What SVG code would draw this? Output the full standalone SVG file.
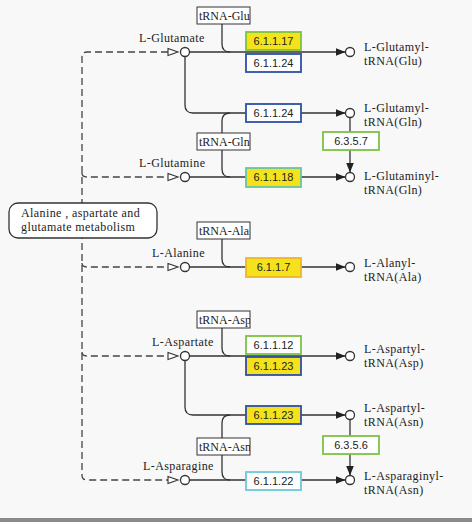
<svg xmlns="http://www.w3.org/2000/svg" width="472" height="522" viewBox="0 0 472 522">
<style>
.ln{fill:none;stroke:#333;stroke-width:1.3}
.dash{fill:none;stroke:#444;stroke-width:1.3;stroke-dasharray:7,4}
.cpd{fill:#fff;stroke:#333;stroke-width:1.3}
.otri{fill:#fff;stroke:#333;stroke-width:1.1}
.trna{fill:#fff;stroke:#333;stroke-width:1}
.ttxt{font-family:"Liberation Serif",serif;font-size:12px;fill:#222}
.lbl{font-family:"Liberation Serif",serif;font-size:12px;letter-spacing:0.4px;fill:#222}
.ec{font-family:"Liberation Sans",Arial,sans-serif;font-size:11px;fill:#222;text-anchor:middle}
.eb{stroke-width:1.8}
</style>
<defs>
<marker id="arr" markerWidth="10" markerHeight="8" refX="10" refY="4" orient="auto" markerUnits="userSpaceOnUse"><path d="M0,0 L10,4 L0,8 z" fill="#222"/></marker>
<clipPath id="c1"><rect x="197" y="7" width="53" height="17"/></clipPath>
<clipPath id="c2"><rect x="197" y="133" width="53" height="17"/></clipPath>
<clipPath id="c3"><rect x="197" y="222" width="53" height="17"/></clipPath>
<clipPath id="c4"><rect x="197" y="311" width="53" height="17"/></clipPath>
<clipPath id="c5"><rect x="197" y="438" width="53" height="17"/></clipPath>
</defs>
<rect x="0" y="0" width="472" height="522" fill="#f8f8f8"/>
<rect x="0" y="518" width="472" height="4" fill="#8a8a8a"/>

<g id="connectors">
<path class="dash" d="M168,52 H87 Q82,52 82,57 V475 Q82,480 87,480 H168"/>
<path class="dash" d="M82,173 Q82,177 87,177 H168"/>
<path class="dash" d="M82,263 Q82,267 87,267 H168"/>
<path class="dash" d="M82,352 Q82,356 87,356 H168"/>
<polygon class="otri" points="168,48.5 178,52 168,55.5"/>
<polygon class="otri" points="168,173.5 178,177 168,180.5"/>
<polygon class="otri" points="168,263.5 178,267 168,270.5"/>
<polygon class="otri" points="168,352.5 178,356 168,359.5"/>
<polygon class="otri" points="168,476.5 178,480 168,483.5"/>
<path class="ln" d="M189.5,52 H345.5" marker-end="url(#arr)"/>
<path class="ln" d="M185,56.5 V105 Q185,113 193,113 H345.5" marker-end="url(#arr)"/>
<path class="ln" d="M189.5,177 H345.5" marker-end="url(#arr)"/>
<path class="ln" d="M189.5,267 H345.5" marker-end="url(#arr)"/>
<path class="ln" d="M189.5,356 H345.5" marker-end="url(#arr)"/>
<path class="ln" d="M185,360.5 V407 Q185,415 193,415 H345.5" marker-end="url(#arr)"/>
<path class="ln" d="M189.5,480 H345.5" marker-end="url(#arr)"/>
<path class="ln" d="M222,24 V44 Q222,52 230,52"/>
<path class="ln" d="M222,133 V121 Q222,113 230,113"/>
<path class="ln" d="M222,150 V169 Q222,177 230,177"/>
<path class="ln" d="M222,239 V259 Q222,267 230,267"/>
<path class="ln" d="M222,328 V348 Q222,356 230,356"/>
<path class="ln" d="M222,438 V423 Q222,415 230,415"/>
<path class="ln" d="M222,455 V472 Q222,480 230,480"/>
<path class="ln" d="M350,117.5 V132"/>
<path class="ln" d="M350,150 V172.5" marker-end="url(#arr)"/>
<path class="ln" d="M350,419.5 V436"/>
<path class="ln" d="M350,454 V475.5" marker-end="url(#arr)"/>
</g>

<g id="map-ala-asp-glu">
<rect x="9" y="203" width="148" height="35" rx="9" fill="#fff" stroke="#333" stroke-width="1.3"/>
<text class="lbl" x="21" y="217">Alanine , aspartate and</text>
<text class="lbl" x="21" y="230.5">glutamate metabolism</text>
</g>

<g id="cpd-glutamate"><circle class="cpd" cx="185" cy="52" r="4.5"/><text class="lbl" x="139" y="42">L-Glutamate</text></g>
<g id="cpd-glutamine"><circle class="cpd" cx="185" cy="177" r="4.5"/><text class="lbl" x="139" y="167">L-Glutamine</text></g>
<g id="cpd-alanine"><circle class="cpd" cx="185" cy="267" r="4.5"/><text class="lbl" x="152" y="257">L-Alanine</text></g>
<g id="cpd-aspartate"><circle class="cpd" cx="185" cy="356" r="4.5"/><text class="lbl" x="152" y="346">L-Aspartate</text></g>
<g id="cpd-asparagine"><circle class="cpd" cx="185" cy="480" r="4.5"/><text class="lbl" x="143" y="470">L-Asparagine</text></g>

<g id="trna-glu"><rect class="trna" x="197" y="7" width="53" height="17"/><text class="ttxt" x="199" y="20" clip-path="url(#c1)">tRNA-Glu</text></g>
<g id="trna-gln"><rect class="trna" x="197" y="133" width="53" height="17"/><text class="ttxt" x="199" y="146" clip-path="url(#c2)">tRNA-Gln</text></g>
<g id="trna-ala"><rect class="trna" x="197" y="222" width="53" height="17"/><text class="ttxt" x="199" y="235" clip-path="url(#c3)">tRNA-Ala</text></g>
<g id="trna-asp"><rect class="trna" x="197" y="311" width="53" height="17"/><text class="ttxt" x="199" y="324" clip-path="url(#c4)">tRNA-Asp</text></g>
<g id="trna-asn"><rect class="trna" x="197" y="438" width="53" height="17"/><text class="ttxt" x="199" y="451" clip-path="url(#c5)">tRNA-Asn</text></g>

<g id="ec-6.1.1.17"><rect class="eb" x="246" y="32" width="55" height="18" fill="#f4e21c" stroke="#7dc242"/><text class="ec" x="273.5" y="45">6.1.1.17</text></g>
<g id="ec-6.1.1.24a"><rect class="eb" x="246" y="54" width="55" height="18" fill="#fff" stroke="#2d4fa8"/><text class="ec" x="273.5" y="67">6.1.1.24</text></g>
<g id="ec-6.1.1.24b"><rect class="eb" x="246" y="104" width="55" height="18" fill="#fff" stroke="#2d4fa8"/><text class="ec" x="273.5" y="117">6.1.1.24</text></g>
<g id="ec-6.3.5.7"><rect class="eb" x="323" y="132" width="56" height="18" fill="#fff" stroke="#7dc242"/><text class="ec" x="351" y="145">6.3.5.7</text></g>
<g id="ec-6.1.1.18"><rect class="eb" x="246" y="168" width="55" height="19" fill="#f4e21c" stroke="#66c4a8"/><text class="ec" x="273.5" y="181">6.1.1.18</text></g>
<g id="ec-6.1.1.7"><rect class="eb" x="246" y="258" width="55" height="19" fill="#f4e21c" stroke="#f0b428"/><text class="ec" x="273.5" y="271">6.1.1.7</text></g>
<g id="ec-6.1.1.12"><rect class="eb" x="246" y="336" width="55" height="18" fill="#fff" stroke="#7dc242"/><text class="ec" x="273.5" y="349">6.1.1.12</text></g>
<g id="ec-6.1.1.23a"><rect class="eb" x="246" y="357" width="55" height="18" fill="#f4e21c" stroke="#2d4fa8"/><text class="ec" x="273.5" y="370">6.1.1.23</text></g>
<g id="ec-6.1.1.23b"><rect class="eb" x="246" y="406" width="55" height="18" fill="#f4e21c" stroke="#2d4fa8"/><text class="ec" x="273.5" y="419">6.1.1.23</text></g>
<g id="ec-6.3.5.6"><rect class="eb" x="323" y="436" width="56" height="18" fill="#fff" stroke="#7dc242"/><text class="ec" x="351" y="449">6.3.5.6</text></g>
<g id="ec-6.1.1.22"><rect class="eb" x="246" y="472" width="55" height="18" fill="#fff" stroke="#6cc9d8"/><text class="ec" x="273.5" y="485">6.1.1.22</text></g>

<g id="cpd-glu-trna-glu"><circle class="cpd" cx="350" cy="52" r="4.5"/><text class="lbl" x="364" y="51">L-Glutamyl-</text><text class="lbl" x="364" y="64.5">tRNA(Glu)</text></g>
<g id="cpd-glu-trna-gln"><circle class="cpd" cx="350" cy="113" r="4.5"/><text class="lbl" x="364" y="112">L-Glutamyl-</text><text class="lbl" x="364" y="125.5">tRNA(Gln)</text></g>
<g id="cpd-gln-trna-gln"><circle class="cpd" cx="350" cy="177" r="4.5"/><text class="lbl" x="364" y="180">L-Glutaminyl-</text><text class="lbl" x="364" y="193.5">tRNA(Gln)</text></g>
<g id="cpd-ala-trna-ala"><circle class="cpd" cx="350" cy="267" r="4.5"/><text class="lbl" x="364" y="267">L-Alanyl-</text><text class="lbl" x="364" y="280.5">tRNA(Ala)</text></g>
<g id="cpd-asp-trna-asp"><circle class="cpd" cx="350" cy="356" r="4.5"/><text class="lbl" x="364" y="353">L-Aspartyl-</text><text class="lbl" x="364" y="366.5">tRNA(Asp)</text></g>
<g id="cpd-asp-trna-asn"><circle class="cpd" cx="350" cy="415" r="4.5"/><text class="lbl" x="364" y="412">L-Aspartyl-</text><text class="lbl" x="364" y="425.5">tRNA(Asn)</text></g>
<g id="cpd-asn-trna-asn"><circle class="cpd" cx="350" cy="480" r="4.5"/><text class="lbl" x="364" y="480">L-Asparaginyl-</text><text class="lbl" x="364" y="493.5">tRNA(Asn)</text></g>
</svg>
